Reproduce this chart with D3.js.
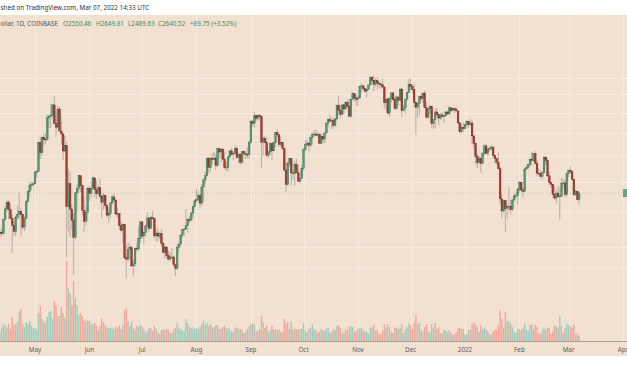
<!DOCTYPE html>
<html><head><meta charset="utf-8">
<script src="https://cdn.jsdelivr.net/npm/d3@7/dist/d3.min.js"></script>
<style>html,body{margin:0;padding:0;background:#fff;overflow:hidden}</style>
</head><body>
<svg id="c" width="627" height="376"></svg>
<script>
// ---------- DATA ----------
const startDate = "2021-04-09"; // first daily bar
// [open, high, low, close] per day
const apr21 = [[2070,2103,2055,2076],[2076,2196,2066,2136],[2136,2165,2106,2157],[2157,2200,2106,2140],[2140,2310,2130,2299],[2299,2468,2299,2432],[2432,2545,2400,2514],[2514,2548,2300,2423],[2423,2497,2315,2317],[2317,2365,1936,2235],[2235,2280,2110,2161],[2161,2350,2110,2330],[2330,2470,2300,2364],[2364,2641,2310,2403],[2403,2444,2107,2363],[2363,2370,2185,2213],[2213,2350,2168,2316],[2316,2545,2300,2532],[2532,2680,2510,2662],[2662,2797,2580,2747],[2747,2797,2680,2757],[2757,2800,2721,2772]];
const may21 = [[2772,2950,2760,2945],[2945,2985,2860,2950],[2950,3450,2950,3431],[3431,3530,3150,3253],[3253,3540,3210,3522],[3522,3610,3375,3490],[3490,3580,3410,3482],[3482,3970,3470,3902],[3902,3970,3700,3928],[3928,4200,3700,3952],[3952,4190,3880,4168],[4168,4372,3784,3785],[3785,4030,3530,3715],[3715,4150,3690,4079],[4079,4130,3640,3640],[3640,3880,3400,3587],[3587,3588,3125,3282],[3282,3560,3270,3380],[3380,3440,1900,2460],[2460,2990,2160,2772],[2772,2950,2100,2430],[2430,2490,2180,2295],[2295,2380,1730,2100],[2100,2650,2080,2643],[2643,2760,2400,2707],[2707,2910,2650,2887],[2887,2890,2650,2742],[2742,2760,2350,2414],[2414,2590,2160,2278],[2278,2460,2230,2386],[2386,2720,2280,2707]];
const jun21 = [[2707,2740,2530,2634],[2634,2800,2580,2707],[2707,2890,2700,2856],[2856,2860,2580,2689],[2689,2815,2560,2630],[2630,2745,2610,2715],[2715,2840,2580,2590],[2590,2620,2320,2517],[2517,2640,2420,2610],[2610,2620,2430,2472],[2472,2500,2320,2354],[2354,2450,2260,2372],[2372,2520,2320,2509],[2509,2620,2480,2588],[2588,2640,2530,2547],[2547,2550,2340,2369],[2369,2450,2320,2373],[2373,2380,2180,2231],[2231,2275,2150,2178],[2178,2255,2030,2245],[2245,2250,1870,1890],[1890,2010,1700,1875],[1875,2045,1855,1970],[1970,2030,1875,1990],[1990,2010,1800,1810],[1810,1875,1720,1829],[1829,1990,1800,1983],[1983,2035,1945,1975],[1975,2215,1960,2087],[2087,2275,2040,2274]];
const jul21 = [[2274,2280,2080,2113],[2113,2160,2020,2150],[2150,2240,2110,2226],[2226,2390,2180,2320],[2320,2324,2155,2198],[2198,2350,2195,2324],[2324,2410,2300,2316],[2316,2320,2090,2115],[2115,2190,2050,2146],[2146,2200,2060,2111],[2111,2160,2080,2140],[2140,2190,2000,2035],[2035,2045,1930,1940],[1940,2015,1880,1995],[1995,2010,1885,1912],[1912,1960,1860,1875],[1875,1945,1855,1896],[1896,1990,1875,1896],[1896,1910,1800,1821],[1821,1830,1718,1787],[1787,2030,1775,1994],[1994,2045,1955,2025],[2025,2130,1990,2124],[2124,2190,2100,2188],[2188,2200,2110,2190],[2190,2430,2190,2230],[2230,2315,2150,2300],[2300,2345,2260,2297],[2297,2400,2280,2380],[2380,2470,2320,2460],[2460,2550,2440,2535]];
const aug21 = [[2535,2700,2515,2557],[2557,2665,2530,2608],[2608,2630,2450,2506],[2506,2760,2470,2724],[2724,2840,2525,2826],[2826,2945,2760,2889],[2889,3180,2880,3157],[3157,3185,2930,3013],[3013,3180,2940,3164],[3164,3235,3060,3141],[3141,3275,3130,3164],[3164,3235,2975,3045],[3045,3330,3030,3322],[3322,3330,3170,3266],[3266,3320,3090,3310],[3310,3340,3140,3148],[3148,3280,2985,3013],[3013,3105,2950,3018],[3018,3190,2955,3185],[3185,3290,3150,3285],[3285,3335,3210,3226],[3226,3270,3130,3242],[3242,3375,3235,3324],[3324,3360,3150,3174],[3174,3250,3080,3228],[3228,3250,3060,3093],[3093,3280,3075,3271],[3271,3295,3205,3243],[3243,3290,3150,3227],[3227,3350,3160,3225],[3225,3470,3150,3433]];
const sep21 = [[3433,3840,3390,3833],[3833,3840,3720,3790],[3790,4020,3710,3941],[3941,3970,3830,3887],[3887,3980,3850,3950],[3950,3970,3840,3927],[3927,3950,3000,3437],[3437,3540,3210,3500],[3500,3550,3420,3427],[3427,3530,3180,3210],[3210,3290,3170,3267],[3267,3440,3220,3409],[3409,3420,3130,3286],[3286,3440,3280,3427],[3427,3620,3360,3610],[3610,3680,3530,3570],[3570,3590,3350,3398],[3398,3540,3360,3430],[3430,3450,3300,3330],[3330,3340,2950,2975],[2975,3100,2650,2760],[2760,3110,2740,3076],[3076,3170,3030,3155],[3155,3165,2750,2930],[2930,2970,2830,2925],[2925,3120,2740,3060],[3060,3160,2930,2930],[2930,3060,2800,2807],[2807,2950,2780,2849],[2849,3060,2840,3000]];
const oct21 = [[3000,3330,2970,3307],[3307,3470,3280,3390],[3390,3490,3370,3418],[3418,3440,3280,3380],[3380,3540,3350,3518],[3518,3620,3390,3580],[3580,3660,3540,3586],[3586,3675,3550,3559],[3559,3630,3540,3576],[3576,3610,3410,3416],[3416,3600,3400,3545],[3545,3560,3410,3492],[3492,3610,3420,3603],[3603,3820,3590,3790],[3790,3895,3710,3867],[3867,3970,3830,3830],[3830,3900,3680,3847],[3847,3900,3680,3748],[3748,3890,3720,3877],[3877,4180,3850,4157],[4157,4375,3950,4057],[4057,4170,3890,3970],[3970,4180,3950,4170],[4170,4180,3980,4083],[4083,4250,4060,4220],[4220,4290,4120,4132],[4132,4300,3920,3930],[3930,4300,3895,4287],[4287,4460,4270,4416],[4416,4420,4240,4323],[4323,4390,4150,4290]];
const nov21 = [[4290,4380,4150,4323],[4323,4600,4310,4591],[4591,4665,4460,4600],[4600,4610,4480,4534],[4534,4570,4440,4476],[4476,4530,4330,4520],[4520,4630,4510,4622],[4622,4825,4610,4813],[4813,4845,4705,4732],[4732,4867,4480,4636],[4636,4780,4580,4728],[4728,4810,4510,4667],[4667,4700,4560,4645],[4645,4700,4520,4627],[4627,4770,4550,4575],[4575,4580,4100,4215],[4215,4300,4050,4292],[4292,4345,3960,3995],[3995,4340,3920,4305],[4305,4440,4220,4437],[4437,4450,4270,4283],[4283,4330,4060,4095],[4095,4380,4060,4343],[4343,4350,4150,4271],[4271,4550,4250,4524],[4524,4550,3920,4045],[4045,4180,4035,4100],[4100,4300,3985,4295],[4295,4460,4270,4445],[4445,4770,4430,4633]];
const dec21 = [[4633,4780,4500,4587],[4587,4630,4430,4516],[4516,4650,4120,4221],[4221,4240,3575,4120],[4120,4230,3900,4198],[4198,4360,3950,4356],[4356,4420,4260,4307],[4307,4440,4210,4432],[4432,4490,4100,4111],[4111,4235,3880,3913],[3913,4100,3880,4085],[4085,4170,3990,4134],[4134,4140,3700,3784],[3784,3875,3680,3862],[3862,4100,3700,4019],[4019,4110,3950,3961],[3961,3980,3760,3893],[3893,4000,3850,3958],[3958,4020,3910,3926],[3926,3960,3800,3939],[3939,4040,3920,4017],[4017,4050,3950,3980],[3980,4150,3950,4106],[4106,4125,4020,4045],[4045,4100,4030,4093],[4093,4120,3990,4066],[4066,4120,4030,4040],[4040,4040,3770,3798],[3798,3820,3600,3628],[3628,3770,3590,3713],[3713,3810,3620,3683]];
const jan22 = [[3683,3770,3680,3769],[3769,3850,3720,3829],[3829,3840,3700,3762],[3762,3880,3740,3794],[3794,3845,3400,3551],[3551,3555,3315,3418],[3418,3425,3060,3195],[3195,3240,3000,3092],[3092,3200,3060,3153],[3153,3180,2930,3081],[3081,3260,3065,3237],[3237,3410,3210,3372],[3372,3395,3235,3244],[3244,3340,3200,3307],[3307,3370,3275,3330],[3330,3380,3285,3351],[3351,3355,3170,3211],[3211,3215,3080,3160],[3160,3175,3060,3096],[3096,3260,2990,2996],[2996,3030,2500,2561],[2561,2615,2320,2406],[2406,2545,2380,2540],[2540,2550,2159,2440],[2440,2480,2310,2459],[2459,2723,2405,2466],[2466,2550,2360,2424],[2424,2560,2400,2547],[2547,2630,2530,2601],[2601,2645,2570,2603],[2603,2710,2495,2687]];
const feb22 = [[2687,2810,2650,2791],[2791,2800,2650,2682],[2682,2720,2580,2662],[2662,2995,2660,2991],[2991,3050,2970,3016],[3016,3070,2985,3060],[3060,3180,3025,3146],[3146,3270,3050,3125],[3125,3250,3100,3237],[3237,3285,3060,3080],[3080,3140,2880,2927],[2927,3010,2895,2917],[2917,2970,2860,2880],[2880,2950,2830,2935],[2935,3190,2930,3181],[3181,3190,3060,3124],[3124,3160,2870,2886],[2886,2950,2750,2785],[2785,2800,2710,2763],[2763,2768,2580,2623],[2623,2740,2550,2573],[2573,2690,2500,2639],[2639,2745,2580,2592],[2592,2720,2300,2599],[2599,2850,2580,2776],[2776,2840,2720,2782],[2782,2830,2590,2622],[2622,2925,2585,2920]];
const mar22 = [[2920,2975,2860,2973],[2973,3040,2910,2949],[2949,2970,2820,2836],[2836,2840,2600,2617],[2617,2680,2600,2664],[2664,2670,2540,2551],[2550.46,2649.81,2489.63,2640.52]];

// daily volume, thousand ETH
const volApr21 = [260,280,230,330,420,380,340,440,300,600,390,420,480,730,800,420,340,470,430,500,380,330];
const volMay21 = [330,280,700,880,560,500,450,600,730,750,560,1000,900,620,630,850,700,580,2000,1320,1200,900,1500,1070,900,650,700,620,520,480,520];
const volJun21 = [500,430,420,460,380,260,370,560,460,400,340,330,330,330,300,350,330,380,300,400,780,820,500,380,480,330,290,380,360,400];
const volJul21 = [360,300,220,250,320,330,260,380,300,220,180,260,290,280,300,270,200,200,280,330,450,330,290,260,250,550,450,360,320,340,300];
const volAug21 = [320,300,350,420,520,400,460,380,430,350,340,380,400,300,300,350,380,310,320,280,230,230,330,340,300,300,280,200,230,300,370];
const volSep21 = [420,440,420,250,250,300,620,470,330,380,220,260,380,280,300,260,300,220,220,560,450,470,300,480,280,310,290,300,300,320];
const volOct21 = [450,260,220,290,330,420,290,280,200,240,290,280,260,320,340,220,220,270,280,380,400,330,190,220,300,280,360,370,350,230,250];
const volNov21 = [300,320,330,260,250,220,180,330,350,400,270,280,180,170,260,420,330,420,350,220,200,340,330,300,330,430,200,300,350,440];
const volDec21 = [400,300,460,650,420,450,280,250,350,420,240,220,420,330,450,300,340,200,190,280,260,220,260,200,150,170,220,330,330,300,300];
const volJan22 = [160,180,280,290,430,470,420,360,230,400,300,330,280,250,180,170,250,280,290,400,770,560,330,720,500,500,440,350,230,200,300];
const volFeb22 = [300,280,330,450,300,250,400,420,300,400,350,200,180,280,330,280,340,320,190,240,380,380,330,620,380,200,330,430];
const volMar22 = [400,360,330,420,160,180,130];

const monthTicks = ["2021-05-01","2021-06-01","2021-07-01","2021-08-01","2021-09-01","2021-10-01","2021-11-01","2021-12-01","2022-01-01","2022-02-01","2022-03-01","2022-04-01"];
const monthLabels = ["May","Jun","Jul","Aug","Sep","Oct","Nov","Dec","2022","Feb","Mar","Apr"];
const priceGrid = [1800,2000,2400,2800,3200,3600,4000,4400,4800];
const lastClose = 2640.52;
const publishedText = "shed on TradingView.com, Mar 07, 2022 14:33 UTC";
const legendName = "ollar, 1D, COINBASE";
const legendO = "O2550.46", legendH = "H2649.81", legendL = "L2489.63", legendC = "C2640.52", legendChg = "+89.75 (+3.52%)";

// ---------- BUILD ----------
const ohlc = [].concat(apr21,may21,jun21,jul21,aug21,sep21,oct21,nov21,dec21,jan22,feb22,mar22);
const vols = [].concat(volApr21,volMay21,volJun21,volJul21,volAug21,volSep21,volOct21,volNov21,volDec21,volJan22,volFeb22,volMar22);
const parse = d3.utcParse("%Y-%m-%d");
const t0 = parse(startDate);
const bars = ohlc.map((r,i)=>({date:d3.utcDay.offset(t0,i),o:r[0],h:r[1],l:r[2],c:r[3],v:vols[i]}));

const W=627,H=376;
const svg = d3.select("#c");
const paneTop=15, paneBottom=356, volBase=341;

const x = d3.scaleUtc().domain([parse("2021-05-01"),parse("2022-04-01")]).range([35,623]);
const y = d3.scaleLog().domain([1700,4867]).range([278,75]);
const yv = d3.scaleLinear().domain([0,2000]).range([volBase,261]);

const COL = {bg:"#f2e1d1",grid:"#f6ebe1",up:"#559a77",upB:"#2f6e4d",dn:"#b0392f",dnB:"#6e231c",wick:"#9d9690",vUp:"#9bcfbb",vDn:"#f2a69c",text:"#5a5a5a",green:"#3e8a5e"};

svg.append("rect").attr("x",0).attr("y",0).attr("width",W).attr("height",H).attr("fill","#fff");
svg.append("rect").attr("x",0).attr("y",paneTop).attr("width",W).attr("height",paneBottom-paneTop).attr("fill",COL.bg);

svg.append("clipPath").attr("id","pane").append("rect").attr("x",0).attr("y",paneTop).attr("width",W).attr("height",volBase-paneTop);
const g = svg.append("g").attr("clip-path","url(#pane)");

// grid
g.append("g").selectAll("line").data(priceGrid).join("line")
  .attr("x1",0).attr("x2",W).attr("y1",d=>Math.round(y(d))+0.5).attr("y2",d=>Math.round(y(d))+0.5)
  .attr("stroke",COL.grid).attr("stroke-width",1);
g.append("g").selectAll("line").data(monthTicks).join("line")
  .attr("x1",d=>Math.round(x(parse(d)))+0.5).attr("x2",d=>Math.round(x(parse(d)))+0.5)
  .attr("y1",paneTop).attr("y2",volBase)
  .attr("stroke",COL.grid).attr("stroke-width",1);

// volume
const bw = 1.4;
g.append("g").selectAll("rect").data(bars).join("rect")
  .attr("x",d=>x(d.date)-bw/2).attr("width",bw)
  .attr("y",d=>yv(d.v)).attr("height",d=>volBase-yv(d.v))
  .attr("fill",d=>d.c>=d.o?COL.vUp:COL.vDn);

// last price line
g.append("line").attr("x1",0).attr("x2",W).attr("y1",y(lastClose)).attr("y2",y(lastClose))
  .attr("stroke","#c4bfa6").attr("stroke-width",0.8).attr("stroke-dasharray","1,2");

// candles
const cg = g.append("g");
cg.selectAll("line").data(bars).join("line")
  .attr("x1",d=>x(d.date)).attr("x2",d=>x(d.date))
  .attr("y1",d=>y(d.h)).attr("y2",d=>y(d.l))
  .attr("stroke",COL.wick).attr("stroke-width",0.7);
const cw = 1.7;
cg.selectAll("rect").data(bars).join("rect")
  .attr("x",d=>x(d.date)-cw/2).attr("width",cw)
  .attr("y",d=>y(Math.max(d.o,d.c)))
  .attr("height",d=>Math.max(0.8,Math.abs(y(d.o)-y(d.c))))
  .attr("fill",d=>d.c>=d.o?COL.up:COL.dn)
  .attr("stroke",d=>d.c>=d.o?COL.upB:COL.dnB).attr("stroke-width",0.4);

// axis border + labels
svg.append("line").attr("x1",0).attr("x2",W).attr("y1",volBase+0.5).attr("y2",volBase+0.5).attr("stroke","#aaa096").attr("stroke-width",1);
const ff="Noto Sans, sans-serif";
svg.append("g").selectAll("text").data(monthTicks).join("text")
  .attr("x",d=>x(parse(d))).attr("y",351.5).attr("text-anchor","middle")
  .attr("font-family",ff).attr("font-size",6.3).attr("fill",COL.text)
  .text((d,i)=>monthLabels[i]);

// price label stub at right
svg.append("rect").attr("x",623).attr("y",y(lastClose)-4).attr("width",8).attr("height",8).attr("fill","#5fa883");

// header texts
svg.append("text").attr("x",0.5).attr("y",10).attr("font-family",ff).attr("font-size",6.3).attr("fill","#333").text(publishedText);
svg.append("text").attr("x",0.5).attr("y",26).attr("font-family",ff).attr("font-size",6.3).attr("fill","#555").text(legendName);
[[63,legendO],[96,legendH],[128,legendL],[158,legendC],[190,legendChg]].forEach(([px,t])=>{
  svg.append("text").attr("x",px).attr("y",26).attr("font-family",ff).attr("font-size",6.3).attr("fill",COL.green).text(t);
});
</script>
</body></html>
